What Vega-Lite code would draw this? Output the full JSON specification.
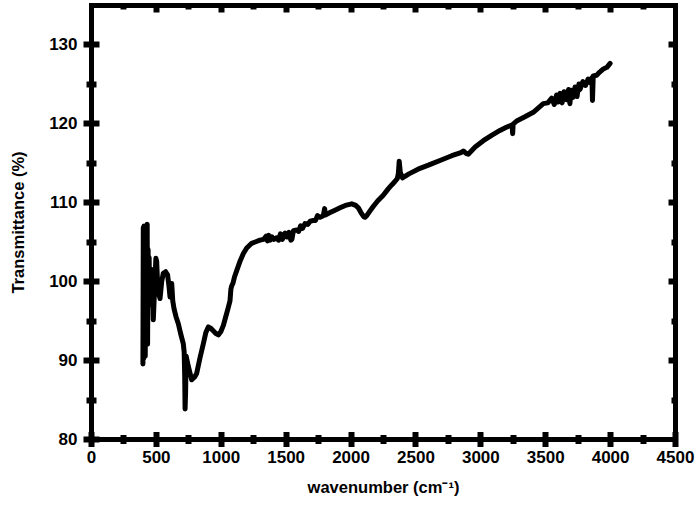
{
  "$schema": "https://vega.github.io/schema/vega-lite/v6.json",
  "width": 584,
  "height": 434,
  "autosize": {"type": "none"},
  "padding": {"left": 91, "top": 5, "right": 24, "bottom": 67},
  "background": "white",
  "view": {"stroke": null},
  "config": {
    "view": {"stroke": null},
    "font": "Liberation Sans",
    "axis": {
      "domain": false,
      "domainColor": "black",
      "domainWidth": 5,
      "domainCap": "square",
      "grid": false,
      "tickColor": "black",
      "tickWidth": 5,
      "labelFont": "Liberation Sans",
      "labelFontWeight": "bold",
      "labelFontSize": 17,
      "labelColor": "black",
      "titleFont": "Liberation Sans",
      "titleFontWeight": "bold",
      "titleFontSize": 16.5,
      "titleColor": "black"
    }
  },
  "data": {
    "values": [
      {"wavenumber": 400, "transmittance": 89.5},
      {"wavenumber": 403, "transmittance": 106.8},
      {"wavenumber": 406, "transmittance": 90.2},
      {"wavenumber": 409, "transmittance": 107},
      {"wavenumber": 412, "transmittance": 91},
      {"wavenumber": 415, "transmittance": 106},
      {"wavenumber": 418, "transmittance": 90.5},
      {"wavenumber": 421, "transmittance": 105},
      {"wavenumber": 424, "transmittance": 93},
      {"wavenumber": 427, "transmittance": 106.5},
      {"wavenumber": 430, "transmittance": 96},
      {"wavenumber": 433, "transmittance": 107.2},
      {"wavenumber": 436, "transmittance": 92},
      {"wavenumber": 440, "transmittance": 104},
      {"wavenumber": 444, "transmittance": 98},
      {"wavenumber": 448, "transmittance": 103},
      {"wavenumber": 452, "transmittance": 97},
      {"wavenumber": 456, "transmittance": 101},
      {"wavenumber": 460, "transmittance": 99},
      {"wavenumber": 465, "transmittance": 101.5},
      {"wavenumber": 470, "transmittance": 97},
      {"wavenumber": 475, "transmittance": 99},
      {"wavenumber": 480, "transmittance": 95.1},
      {"wavenumber": 490, "transmittance": 99},
      {"wavenumber": 500, "transmittance": 102.9},
      {"wavenumber": 506, "transmittance": 102.5},
      {"wavenumber": 515, "transmittance": 99},
      {"wavenumber": 525, "transmittance": 98.2},
      {"wavenumber": 532, "transmittance": 97.8},
      {"wavenumber": 545, "transmittance": 100},
      {"wavenumber": 557, "transmittance": 101},
      {"wavenumber": 575, "transmittance": 101.2},
      {"wavenumber": 590, "transmittance": 100.8},
      {"wavenumber": 600, "transmittance": 99.5},
      {"wavenumber": 609, "transmittance": 98},
      {"wavenumber": 615, "transmittance": 99.7},
      {"wavenumber": 622, "transmittance": 99.7},
      {"wavenumber": 630, "transmittance": 97.5},
      {"wavenumber": 640, "transmittance": 96.5},
      {"wavenumber": 655, "transmittance": 95.5},
      {"wavenumber": 673, "transmittance": 94.6},
      {"wavenumber": 690, "transmittance": 93.4},
      {"wavenumber": 711, "transmittance": 92.1},
      {"wavenumber": 718, "transmittance": 91},
      {"wavenumber": 722, "transmittance": 88},
      {"wavenumber": 725, "transmittance": 83.8},
      {"wavenumber": 729, "transmittance": 86},
      {"wavenumber": 733, "transmittance": 90.5},
      {"wavenumber": 750, "transmittance": 89.2},
      {"wavenumber": 776, "transmittance": 87.5},
      {"wavenumber": 800, "transmittance": 87.9},
      {"wavenumber": 814, "transmittance": 88.3},
      {"wavenumber": 840, "transmittance": 90.3},
      {"wavenumber": 866, "transmittance": 92.1},
      {"wavenumber": 885, "transmittance": 93.5},
      {"wavenumber": 904, "transmittance": 94.2},
      {"wavenumber": 925, "transmittance": 94},
      {"wavenumber": 943, "transmittance": 93.7},
      {"wavenumber": 960, "transmittance": 93.4},
      {"wavenumber": 981, "transmittance": 93.2},
      {"wavenumber": 1000, "transmittance": 93.6},
      {"wavenumber": 1020, "transmittance": 94.4},
      {"wavenumber": 1035, "transmittance": 95.3},
      {"wavenumber": 1055, "transmittance": 96.5},
      {"wavenumber": 1071, "transmittance": 97.5},
      {"wavenumber": 1078, "transmittance": 99},
      {"wavenumber": 1084, "transmittance": 99.4},
      {"wavenumber": 1095, "transmittance": 99.8},
      {"wavenumber": 1105, "transmittance": 100.5},
      {"wavenumber": 1122, "transmittance": 101.3},
      {"wavenumber": 1150, "transmittance": 102.6},
      {"wavenumber": 1174, "transmittance": 103.5},
      {"wavenumber": 1200, "transmittance": 104.2},
      {"wavenumber": 1238, "transmittance": 104.8},
      {"wavenumber": 1270, "transmittance": 105},
      {"wavenumber": 1302, "transmittance": 105.2},
      {"wavenumber": 1330, "transmittance": 105.3},
      {"wavenumber": 1350, "transmittance": 105.7},
      {"wavenumber": 1360, "transmittance": 105.1},
      {"wavenumber": 1370, "transmittance": 105.8},
      {"wavenumber": 1380, "transmittance": 105.2},
      {"wavenumber": 1395, "transmittance": 105.6},
      {"wavenumber": 1410, "transmittance": 105.3},
      {"wavenumber": 1431, "transmittance": 105.5},
      {"wavenumber": 1445, "transmittance": 105.2},
      {"wavenumber": 1460, "transmittance": 106},
      {"wavenumber": 1475, "transmittance": 105.3},
      {"wavenumber": 1495, "transmittance": 106.1},
      {"wavenumber": 1510, "transmittance": 105.6},
      {"wavenumber": 1525, "transmittance": 106.2},
      {"wavenumber": 1540, "transmittance": 105.2},
      {"wavenumber": 1548, "transmittance": 105.3},
      {"wavenumber": 1560, "transmittance": 106.4},
      {"wavenumber": 1585, "transmittance": 106.5},
      {"wavenumber": 1600, "transmittance": 106.3},
      {"wavenumber": 1615, "transmittance": 107},
      {"wavenumber": 1630, "transmittance": 106.7},
      {"wavenumber": 1649, "transmittance": 107.3},
      {"wavenumber": 1670, "transmittance": 107.2},
      {"wavenumber": 1690, "transmittance": 107.6},
      {"wavenumber": 1713, "transmittance": 107.7},
      {"wavenumber": 1730, "transmittance": 107.7},
      {"wavenumber": 1745, "transmittance": 108.3},
      {"wavenumber": 1765, "transmittance": 108.1},
      {"wavenumber": 1790, "transmittance": 108.3},
      {"wavenumber": 1800, "transmittance": 109.2},
      {"wavenumber": 1806, "transmittance": 108.4},
      {"wavenumber": 1842, "transmittance": 108.7},
      {"wavenumber": 1880, "transmittance": 109},
      {"wavenumber": 1919, "transmittance": 109.3},
      {"wavenumber": 1960, "transmittance": 109.6},
      {"wavenumber": 2009, "transmittance": 109.8},
      {"wavenumber": 2040, "transmittance": 109.6},
      {"wavenumber": 2060, "transmittance": 109.3},
      {"wavenumber": 2080, "transmittance": 108.7},
      {"wavenumber": 2100, "transmittance": 108.2},
      {"wavenumber": 2111, "transmittance": 108.1},
      {"wavenumber": 2125, "transmittance": 108.3},
      {"wavenumber": 2150, "transmittance": 108.9},
      {"wavenumber": 2176, "transmittance": 109.5},
      {"wavenumber": 2210, "transmittance": 110.2},
      {"wavenumber": 2252, "transmittance": 110.9},
      {"wavenumber": 2290, "transmittance": 111.7},
      {"wavenumber": 2317, "transmittance": 112.2},
      {"wavenumber": 2340, "transmittance": 112.6},
      {"wavenumber": 2360, "transmittance": 113},
      {"wavenumber": 2368, "transmittance": 113.6},
      {"wavenumber": 2375, "transmittance": 115.2},
      {"wavenumber": 2383, "transmittance": 113.8},
      {"wavenumber": 2400, "transmittance": 113.1},
      {"wavenumber": 2450, "transmittance": 113.6},
      {"wavenumber": 2535, "transmittance": 114.3},
      {"wavenumber": 2600, "transmittance": 114.7},
      {"wavenumber": 2689, "transmittance": 115.3},
      {"wavenumber": 2780, "transmittance": 115.9},
      {"wavenumber": 2850, "transmittance": 116.3},
      {"wavenumber": 2869, "transmittance": 116.5},
      {"wavenumber": 2890, "transmittance": 116.2},
      {"wavenumber": 2907, "transmittance": 116.1},
      {"wavenumber": 2960, "transmittance": 117},
      {"wavenumber": 3023, "transmittance": 117.8},
      {"wavenumber": 3090, "transmittance": 118.5},
      {"wavenumber": 3151, "transmittance": 119.1},
      {"wavenumber": 3200, "transmittance": 119.5},
      {"wavenumber": 3228, "transmittance": 119.7},
      {"wavenumber": 3245, "transmittance": 119.8},
      {"wavenumber": 3249, "transmittance": 118.7},
      {"wavenumber": 3253, "transmittance": 119.9},
      {"wavenumber": 3280, "transmittance": 120.3},
      {"wavenumber": 3340, "transmittance": 120.8},
      {"wavenumber": 3408, "transmittance": 121.4},
      {"wavenumber": 3450, "transmittance": 122},
      {"wavenumber": 3485, "transmittance": 122.5},
      {"wavenumber": 3520, "transmittance": 122.6},
      {"wavenumber": 3550, "transmittance": 123.2},
      {"wavenumber": 3570, "transmittance": 122.4},
      {"wavenumber": 3588, "transmittance": 123.6},
      {"wavenumber": 3600, "transmittance": 122.7},
      {"wavenumber": 3615, "transmittance": 123.8},
      {"wavenumber": 3630, "transmittance": 122.6},
      {"wavenumber": 3645, "transmittance": 124},
      {"wavenumber": 3665, "transmittance": 123},
      {"wavenumber": 3680, "transmittance": 124.3},
      {"wavenumber": 3690, "transmittance": 122.5},
      {"wavenumber": 3700, "transmittance": 124.2},
      {"wavenumber": 3715, "transmittance": 123.3},
      {"wavenumber": 3730, "transmittance": 124.6},
      {"wavenumber": 3745, "transmittance": 123.4},
      {"wavenumber": 3760, "transmittance": 125},
      {"wavenumber": 3768, "transmittance": 124.3},
      {"wavenumber": 3790, "transmittance": 125.3},
      {"wavenumber": 3810, "transmittance": 124.8},
      {"wavenumber": 3830, "transmittance": 125.6},
      {"wavenumber": 3845, "transmittance": 125.2},
      {"wavenumber": 3860, "transmittance": 125.8},
      {"wavenumber": 3864, "transmittance": 122.9},
      {"wavenumber": 3870, "transmittance": 126},
      {"wavenumber": 3896, "transmittance": 126.1},
      {"wavenumber": 3920, "transmittance": 126.5},
      {"wavenumber": 3948, "transmittance": 126.9},
      {"wavenumber": 3975, "transmittance": 127.1},
      {"wavenumber": 4000, "transmittance": 127.6}
    ]
  },
  "layer": [
    {
      "mark": {"type": "line", "color": "black", "strokeWidth": 5, "strokeJoin": "round", "strokeCap": "round"},
      "encoding": {
        "x": {
          "field": "wavenumber", "type": "quantitative",
          "scale": {"domain": [0, 4500], "nice": false},
          "axis": {"orient": "bottom", "values": [0, 500, 1000, 1500, 2000, 2500, 3000, 3500, 4000, 4500],
                   "tickSize": 15, "tickWidth": 6, "offset": -7.5, "labelPadding": 3, "format": "d",
                   "title": "wavenumber (cm⁻¹)", "titlePadding": 14, "labelFlush": false, "labelOverlap": false}
        },
        "y": {
          "field": "transmittance", "type": "quantitative",
          "scale": {"domain": [80, 135], "nice": false, "zero": false},
          "axis": {"orient": "left", "values": [80, 90, 100, 110, 120, 130],
                   "tickSize": 16, "tickWidth": 6, "offset": -8, "labelPadding": 6, "format": "d",
                   "title": "Transmittance (%)", "titlePadding": 22, "labelFlush": false, "labelOverlap": false}
        }
      }
    },
    {
      "mark": {"type": "line", "opacity": 0},
      "encoding": {
        "x": {
          "field": "wavenumber", "type": "quantitative",
          "axis": {"orient": "bottom", "values": [250, 750, 1250, 1750, 2250, 2750, 3250, 3750, 4250],
                   "tickSize": 9, "tickWidth": 6, "offset": -4.5, "labels": false, "title": null}
        },
        "y": {
          "field": "transmittance", "type": "quantitative",
          "axis": {"orient": "left", "values": [85, 95, 105, 115, 125],
                   "tickSize": 10, "tickWidth": 6, "offset": -5, "labels": false, "title": null}
        }
      }
    },
    {
      "mark": {"type": "line", "opacity": 0},
      "encoding": {
        "x": {
          "field": "wavenumber", "type": "quantitative",
          "axis": {"orient": "top", "values": [500, 1000, 1500, 2000, 2500, 3000, 3500, 4000],
                   "tickSize": -7, "tickWidth": 6, "offset": 0, "domain": true, "labels": false, "title": null}
        },
        "y": {
          "field": "transmittance", "type": "quantitative",
          "axis": {"orient": "right", "values": [90, 100, 110, 120, 130],
                   "tickSize": -7, "tickWidth": 6, "offset": 0, "domain": true, "labels": false, "title": null}
        }
      }
    },
    {
      "mark": {"type": "line", "opacity": 0},
      "encoding": {
        "x": {
          "field": "wavenumber", "type": "quantitative",
          "axis": {"orient": "top", "values": [250, 750, 1250, 1750, 2250, 2750, 3250, 3750, 4250],
                   "tickSize": -4, "tickWidth": 6, "offset": 0, "labels": false, "title": null}
        },
        "y": {
          "field": "transmittance", "type": "quantitative",
          "axis": {"orient": "right", "values": [85, 95, 105, 115, 125],
                   "tickSize": -4, "tickWidth": 6, "offset": 0, "labels": false, "title": null}
        }
      }
    },
    {
      "mark": {"type": "line", "opacity": 0},
      "encoding": {
        "x": {
          "field": "wavenumber", "type": "quantitative",
          "axis": {"orient": "bottom", "ticks": false, "domain": true, "offset": 0, "labels": false, "title": null}
        },
        "y": {
          "field": "transmittance", "type": "quantitative",
          "axis": {"orient": "left", "ticks": false, "domain": true, "offset": 0, "labels": false, "title": null}
        }
      }
    }
  ],
  "resolve": {"axis": {"x": "independent", "y": "independent"}}
}
